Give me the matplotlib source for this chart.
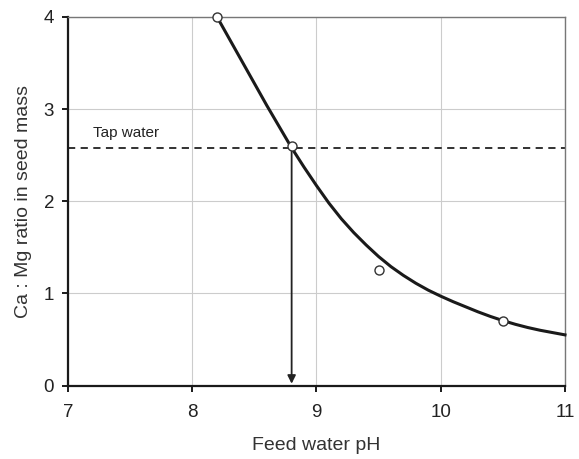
import matplotlib
matplotlib.use("Agg")
import matplotlib.pyplot as plt

plt.rcParams['font.family'] = ['Liberation Sans', 'DejaVu Sans']

# measured points
ph = [8.2, 8.8, 9.5, 10.5]
ratio = [4.0, 2.6, 1.25, 0.7]

# fitted curve
curve_ph = [8.2, 8.3, 8.4, 8.5, 8.6, 8.7, 8.8, 8.9, 9.0, 9.1, 9.2, 9.3, 9.4, 9.5,
            9.6, 9.7, 9.8, 9.9, 10.0, 10.1, 10.2, 10.3, 10.4, 10.5, 10.6, 10.7,
            10.8, 10.9, 11.0]
curve_ratio = [4.00, 3.76, 3.52, 3.28, 3.04, 2.81, 2.58, 2.37, 2.17, 1.98, 1.81,
               1.66, 1.525, 1.40, 1.29, 1.195, 1.11, 1.035, 0.97, 0.91, 0.855,
               0.80, 0.75, 0.705, 0.665, 0.63, 0.60, 0.575, 0.55]

tap_ratio = 2.58
tap_ph = 8.8

fig = plt.figure(figsize=(5.79, 4.59), dpi=100)
ax = fig.add_axes([0.1174, 0.160, 0.8584, 0.803])

ax.grid(True, color='#cccccc', lw=0.8)
ax.set_axisbelow(True)

ax.axhline(tap_ratio, color='#222222', ls=(0, (4, 3)), lw=1.3, zorder=2)
ax.text(7.2, tap_ratio + 0.08, "Tap water", fontsize=11, color='#222222', va='bottom')

ax.annotate("", xy=(tap_ph, 0.02), xytext=(tap_ph, tap_ratio),
            arrowprops=dict(arrowstyle='-|>', color='#222222', lw=1.3,
                            mutation_scale=12, shrinkA=0, shrinkB=0), zorder=3)

ax.plot(curve_ph, curve_ratio, color='#1a1a1a', lw=2.2, zorder=4, clip_on=False,
        solid_joinstyle='round')
ax.plot(ph, ratio, 'o', ms=6.5, mfc='white', mec='#333333', mew=1.0, zorder=5, clip_on=False)

ax.set_xlim(7, 11)
ax.set_ylim(0, 4)
ax.set_xticks([7, 8, 9, 10, 11])
ax.set_yticks([0, 1, 2, 3, 4])

ax.set_xlabel("Feed water pH", fontsize=14, color='#333333', labelpad=12)
ax.set_ylabel("Ca : Mg ratio in seed mass", fontsize=14, color='#333333', labelpad=8)

for s in ['left', 'bottom']:
    ax.spines[s].set_color('#1a1a1a')
    ax.spines[s].set_linewidth(1.6)
for s in ['top', 'right']:
    ax.spines[s].set_color('#777777')
    ax.spines[s].set_linewidth(1.0)

ax.tick_params(direction='out', length=4, width=1.4, color='#1a1a1a',
               labelsize=13.5, labelcolor='#222222')
ax.tick_params(axis='x', pad=9)
ax.tick_params(axis='y', pad=6)

fig.savefig("out.png", dpi=100)
